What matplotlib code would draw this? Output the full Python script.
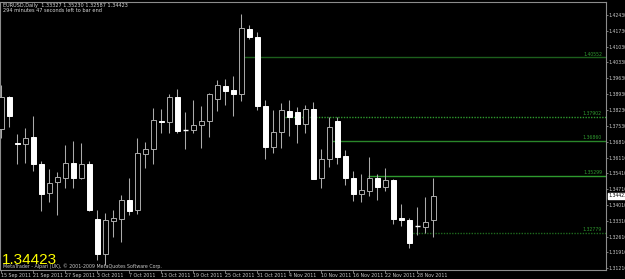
"""EURUSD daily candles, MetaTrader style, with the horizontal level lines."""
import matplotlib

matplotlib.use("Agg")
import matplotlib.pyplot as plt
import matplotlib.transforms as mtransforms

# daily bars, 15 Sep 2011 .. 30 Nov 2011
opens = [1.3737, 1.3878, 1.3677, 1.3670, 1.3701, 1.3583, 1.3453, 1.3504, 1.3522, 1.3586,
         1.3520, 1.3582, 1.3340, 1.3184, 1.3330, 1.3341, 1.3423, 1.3379, 1.3627, 1.3648,
         1.3775, 1.3768, 1.3878, 1.3732, 1.3734, 1.3754, 1.3775, 1.3870, 1.3928, 1.3911,
         1.3892, 1.4181, 1.4144, 1.3841, 1.3657, 1.3723, 1.3819, 1.3812, 1.3761, 1.3827,
         1.3520, 1.3606, 1.3775, 1.3618, 1.3520, 1.3449, 1.3462, 1.3520, 1.3482, 1.3511,
         1.3342, 1.3335, 1.3310, 1.3305, 1.33327]
highs = [1.3933, 1.3886, 1.3716, 1.3742, 1.3796, 1.3598, 1.3562, 1.3549, 1.3667, 1.3686,
         1.3675, 1.3596, 1.3379, 1.3364, 1.3379, 1.3446, 1.3520, 1.3697, 1.3682, 1.3830,
         1.3825, 1.3892, 1.3914, 1.3815, 1.3866, 1.3840, 1.3899, 1.3955, 1.3959, 1.3973,
         1.4247, 1.4199, 1.4169, 1.3866, 1.3822, 1.3852, 1.3866, 1.3837, 1.3844, 1.3858,
         1.3649, 1.3790, 1.3790, 1.3645, 1.3553, 1.3539, 1.3613, 1.3539, 1.3564, 1.3515,
         1.3406, 1.3342, 1.3394, 1.3438, 1.35230]
lows = [1.3698, 1.3748, 1.3583, 1.3586, 1.3553, 1.3376, 1.3413, 1.3357, 1.3475, 1.3475,
        1.3515, 1.3376, 1.3158, 1.3135, 1.3258, 1.3239, 1.3357, 1.3361, 1.3564, 1.3582,
        1.3719, 1.3722, 1.3722, 1.3648, 1.3719, 1.3652, 1.3701, 1.3819, 1.3846, 1.3796,
        1.3862, 1.4135, 1.3822, 1.3604, 1.3633, 1.3652, 1.3707, 1.3677, 1.3722, 1.3516,
        1.3478, 1.3571, 1.3583, 1.3490, 1.3420, 1.3416, 1.3441, 1.3423, 1.3465, 1.3316,
        1.3308, 1.3209, 1.3268, 1.3276, 1.32587]
closes = [1.3878, 1.3796, 1.3673, 1.3699, 1.3583, 1.3451, 1.3497, 1.3524, 1.3586, 1.3520,
          1.3582, 1.3379, 1.3184, 1.3335, 1.3342, 1.3423, 1.3373, 1.3630, 1.3648, 1.3778,
          1.3769, 1.3878, 1.3730, 1.3731, 1.3756, 1.3773, 1.3892, 1.3933, 1.3906, 1.3893,
          1.4184, 1.4146, 1.3840, 1.3657, 1.3723, 1.3821, 1.3790, 1.3760, 1.3827, 1.3518,
          1.3606, 1.3748, 1.3615, 1.3520, 1.3449, 1.3466, 1.3520, 1.3482, 1.3511, 1.3340,
          1.3335, 1.3234, 1.3307, 1.3327, 1.34423]

date_ticks = [0, 4, 8, 12, 16, 20, 24, 28, 32, 36, 40, 44, 48, 52]
date_labels = ["15 Sep 2011", "21 Sep 2011", "27 Sep 2011", "3 Oct 2011", "7 Oct 2011",
               "13 Oct 2011", "19 Oct 2011", "25 Oct 2011", "31 Oct 2011", "4 Nov 2011",
               "10 Nov 2011", "16 Nov 2011", "22 Nov 2011", "28 Nov 2011"]
price_ticks = [1.4243, 1.4173, 1.4103, 1.4033, 1.3963, 1.3893, 1.3823, 1.3753, 1.3681,
               1.3611, 1.3541, 1.3471, 1.3401, 1.3331, 1.3261, 1.3191, 1.3121]

# horizontal levels: price, first bar, dotted?
level_prices = [1.40552, 1.37902, 1.36860, 1.35299, 1.32779]
level_start = [30.2, 35.5, 41.2, 45.8, 51.1]
level_dotted = [False, True, False, False, True]
level_colors = ["#1C5E1C", "#2E9A2E", "#2A862A", "#2E9A2E", "#1E6A1E"]

header = "EURUSD,Daily  1.33327 1.35230 1.32587 1.34423"
timer = "294 minutes 47 seconds left to bar end"
last_price = 1.34423

BG, WICK, GREEN, AXIS = "#000000", "#ABABAB", "#2F9A2F", "#8C8C8C"


def main():
    fig = plt.figure(figsize=(6.25, 2.79), dpi=100, facecolor=BG)
    ax = fig.add_axes([0.0, 9 / 279, 606 / 625, 268 / 279], facecolor=BG)

    n = len(opens)
    xs = list(range(n))
    ax.vlines(xs, lows, highs, color=WICK, lw=0.75, zorder=2)
    for x, o, c in zip(xs, opens, closes):
        bull = c >= o
        h = abs(c - o)
        if h < 0.0003:
            ax.hlines((o + c) / 2, x - 0.31, x + 0.31, color="white", lw=1.0, zorder=3)
            continue
        ax.bar(x, h, bottom=min(o, c), width=0.62,
               color=BG if bull else "white", edgecolor=WICK if bull else "white",
               lw=0.7, zorder=3)

    xmax = 75.59
    for p, s, dot, col in zip(level_prices, level_start, level_dotted, level_colors):
        ax.hlines(p, s, xmax, color=col, lw=1.0,
                  linestyles=(0, (1, 1)) if dot else "solid", zorder=1)
        ax.text(xmax - 0.5, p + 0.0004, f"{p:.5f}", color=GREEN, fontsize=3.3,
                ha="right", va="bottom")

    ax.set_xlim(-0.16, xmax)
    ax.set_ylim(1.3113, 1.4301)

    ax.yaxis.tick_right()
    ax.set_yticks(price_ticks)
    ax.set_yticklabels([f"{p:.5f}" for p in price_ticks])
    ax.set_xticks(date_ticks)
    ax.set_xticklabels(date_labels)
    ax.tick_params(axis="y", colors=AXIS, labelcolor="#C8C8C8", labelsize=3.3,
                   length=1.5, width=0.6, pad=0.6)
    ax.tick_params(axis="x", colors=AXIS, labelcolor="#C8C8C8", labelsize=3.4,
                   length=2, width=0.6, pad=0.5)
    for lab in ax.get_xticklabels():
        lab.set_ha("left")
    for sp in ax.spines.values():
        sp.set_color(AXIS)
        sp.set_linewidth(0.8)

    trans = mtransforms.blended_transform_factory(ax.transAxes, ax.transData)
    ax.text(1.004, last_price, f"{last_price:.5f}", transform=trans, fontsize=3.3,
            color="black", va="center", ha="left", clip_on=False,
            bbox=dict(boxstyle="square,pad=0.15", fc="white", ec="white"))

    fig.text(3 / 625, 1 - 5 / 279, header, color="#D8D8D8", fontsize=3.6, va="center")
    fig.text(3 / 625, 1 - 10 / 279, timer, color="#D8D8D8", fontsize=3.6, va="center")
    fig.text(3 / 625, 1 - 266 / 279,
             "MetaTrader - Alpari (UK), \u00a9 2001-2009 MetaQuotes Software Corp.",
             color="#C8C8C8", fontsize=3.4, va="center")
    fig.text(2 / 625, 1 - 260 / 279, f"{last_price:.5f}", color="#FFFF00", fontsize=11,
             family="Liberation Sans", va="center")

    fig.savefig("out.png", dpi=100, facecolor=BG)


if __name__ == "__main__":
    main()
